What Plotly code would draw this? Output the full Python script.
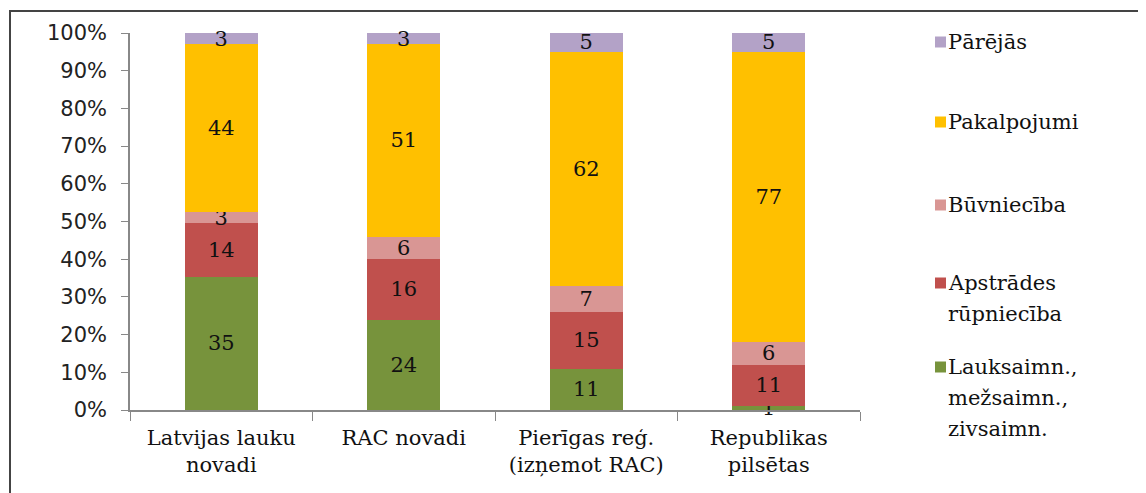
import plotly.graph_objects as go

categories = ["Latvijas lauku<br>novadi", "RAC novadi", "Pierīgas reģ.<br>(izņemot RAC)", "Republikas<br>pilsētas"]
series_names = ["Lauksaimn., mežsaimn., zivsaimn.", "Apstrādes rūpniecība", "Būvniecība", "Pakalpojumi", "Pārējās"]
lauksaimn = [35, 24, 11, 1]
apstrades = [14, 16, 15, 11]
buvnieciba = [3, 6, 7, 6]
pakalpojumi = [44, 51, 62, 77]
parejas = [3, 3, 5, 5]
colors = ["#77933C", "#C0504D", "#D99694", "#FFC000", "#B3A2C7"]
legend_lines = [["Lauksaimn.,", "mežsaimn.,", "zivsaimn."], ["Apstrādes", "rūpniecība"], ["Būvniecība"], ["Pakalpojumi"], ["Pārējās"]]

SERIF = "DejaVu Serif, serif"
SANS = "DejaVu Sans, Verdana, sans-serif"

fig = go.Figure()
for name, vals, col in zip(series_names, [lauksaimn, apstrades, buvnieciba, pakalpojumi, parejas], colors):
    fig.add_trace(go.Bar(
        x=categories, y=vals, name=name, marker=dict(color=col, line=dict(width=0)),
        text=[str(v) for v in vals], texttemplate="%{text}", textposition="inside",
        insidetextanchor="middle", textangle=0, constraintext="none",
        textfont=dict(family=SERIF, size=21, color="#111"), width=0.4,
        showlegend=False, cliponaxis=False,
    ))

OFF = 8  # page body margin offset
W, H = 1146, 493
L, R, T, B = 130 - OFF, 860 - OFF, 33 - OFF, 410 - OFF
px_x = lambda px: (px - OFF - L) / (R - L)
px_y = lambda py: (B - (py - OFF)) / (B - T)

shapes = [dict(type="rect", xref="paper", yref="paper", x0=px_x(10), x1=px_x(1200),
               y0=px_y(540), y1=px_y(11), line=dict(color="#444", width=2), fillcolor="rgba(0,0,0,0)", layer="below")]
annotations = []
# legend (top to bottom): Pārējās, Pakalpojumi, Būvniecība, Apstrādes, Lauksaimn.
leg_y = {4: 42, 3: 122, 2: 205, 1: 283, 0: 367}
LINE = 31
for i, yc in leg_y.items():
    shapes.append(dict(type="rect", xref="paper", yref="paper", x0=px_x(935), x1=px_x(946),
                       y0=px_y(yc + 5.5), y1=px_y(yc - 5.5), fillcolor=colors[i], line=dict(width=0)))
    for k, line in enumerate(legend_lines[i]):
        annotations.append(dict(xref="paper", yref="paper", x=px_x(946), y=px_y(yc + k * LINE), xanchor="left",
                                yanchor="middle", text=line, showarrow=False, align="left",
                                font=dict(family=SERIF, size=21, color="#111")))

fig.update_layout(
    width=W, height=H, barmode="stack", barnorm="percent",
    margin=dict(l=L, r=W - R, t=T, b=H - B, pad=0),
    paper_bgcolor="white", plot_bgcolor="white", showlegend=False,
    uniformtext=dict(minsize=21, mode="show"),
    xaxis=dict(showline=True, linecolor="#888", linewidth=1.5, ticks="outside", ticklen=9, tickcolor="#888",
               tickson="boundaries", showgrid=False, ticklabelstandoff=8,
               tickfont=dict(family=SERIF, size=21, color="#111")),
    yaxis=dict(range=[0, 100], dtick=10, ticksuffix="%", showline=True, linecolor="#888", linewidth=1.5,
               ticks="outside", ticklen=7, tickcolor="#888", showgrid=False, zeroline=False,
               ticklabelstandoff=10,
               tickfont=dict(family=SANS, size=21, color="#222")),
    shapes=shapes, annotations=annotations,
)
fig.write_html("out.html")
